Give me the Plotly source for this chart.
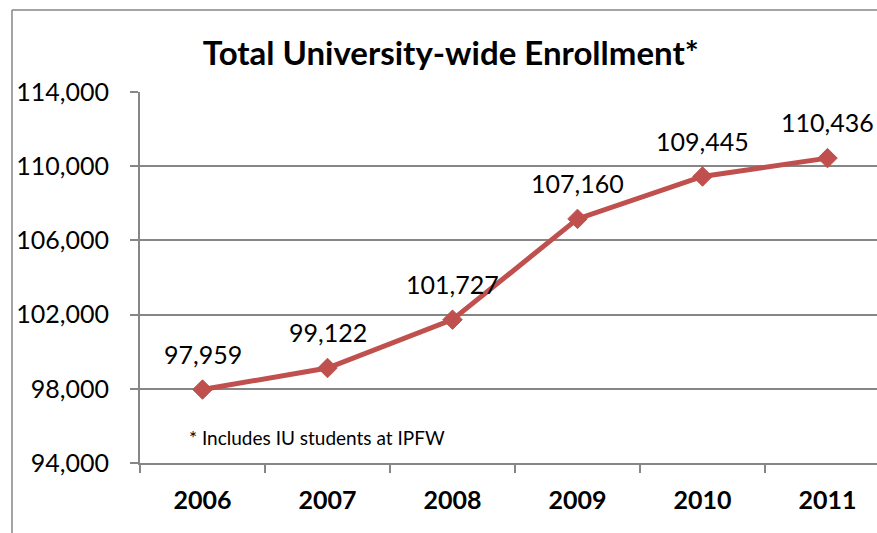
import plotly.graph_objects as go

years = ["2006", "2007", "2008", "2009", "2010", "2011"]
enrollment = [97959, 99122, 101727, 107160, 109445, 110436]
y_ticks = [94000, 98000, 102000, 106000, 110000, 114000]
y_tick_text = ["94,000", "98,000", "102,000", "106,000", "110,000", "114,000"]
title_text = "Total University-wide Enrollment*"
footnote = "* Includes IU students at IPFW"

RED = "#C0504D"
GRID = "#868686"
FONT = "Lato"

fig = go.Figure()
fig.add_trace(go.Scatter(
    x=years, y=enrollment, mode="lines+markers",
    line=dict(color=RED, width=5),
    marker=dict(symbol="diamond", size=15, color=RED, line=dict(color=RED, width=1)),
    cliponaxis=False, hoverinfo="skip",
))

for i, v in enumerate(enrollment):
    fig.add_annotation(x=i, y=v, xref="x", yref="y", text=f"{v:,}", showarrow=False,
                       yshift=36, yanchor="middle", xanchor="center",
                       font=dict(family=FONT, size=25, color="#000"))

fig.add_annotation(xref="paper", yref="paper", x=0.0638, y=0.070,
                   xanchor="left", yanchor="middle", text=footnote, showarrow=False,
                   font=dict(family=FONT, size=19, color="#000"))

# outer chart frame
fig.add_shape(type="line", xref="paper", yref="paper", x0=-0.1737, x1=-0.1737,
              y0=-0.3, y1=1.221, line=dict(color=GRID, width=1.5))
fig.add_shape(type="line", xref="paper", yref="paper", x0=-0.1737, x1=1.1,
              y0=1.221, y1=1.221, line=dict(color=GRID, width=1.5))

fig.update_layout(
    width=877, height=533,
    margin=dict(l=140, r=0, t=92, b=70),
    paper_bgcolor="white", plot_bgcolor="white",
    showlegend=False,
    title=dict(text=f"<b>{title_text}</b>", x=0.514, xanchor="center",
               y=(533 - 53) / 533, yanchor="middle", yref="container",
               font=dict(family=FONT, size=33, color="#000")),
    xaxis=dict(type="category", range=[-0.5, 5.396], tickson="boundaries",
               showgrid=False, showline=True, linecolor=GRID, linewidth=2,
               ticks="outside", ticklen=8, tickcolor=GRID, tickwidth=2,
               tickfont=dict(family=FONT, size=25, color="#000", weight="bold"),
               ticklabelstandoff=14, zeroline=False),
    yaxis=dict(range=[94000, 114000], tickvals=y_ticks, ticktext=y_tick_text,
               showgrid=True, gridcolor=GRID, gridwidth=1.5,
               showline=True, linecolor=GRID, linewidth=2,
               ticks="outside", ticklen=8, tickcolor=GRID, tickwidth=2,
               tickfont=dict(family=FONT, size=25, color="#000"),
               ticklabelstandoff=16, zeroline=False),
)

fig.write_html("out.html", config={"displayModeBar": False},
               post_script="document.body.style.margin='0';document.body.style.overflow='hidden';")
